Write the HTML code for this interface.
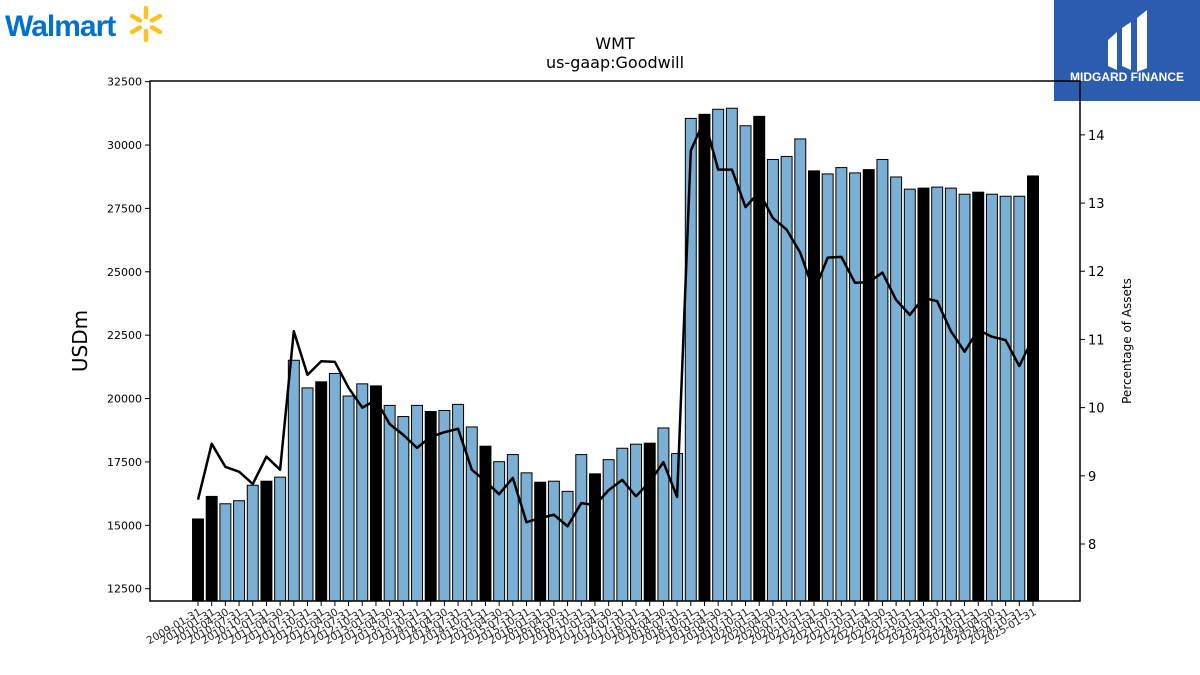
<!DOCTYPE html>
<html><head><meta charset="utf-8"><style>
body{margin:0;background:#fff;width:1200px;height:675px;overflow:hidden;font-family:"DejaVu Sans","Liberation Sans",sans-serif}
svg{position:absolute;left:0;top:0}
</style></head><body>
<svg id="c" width="1200" height="675" xmlns="http://www.w3.org/2000/svg">
<g>
<text x="5" y="36" font-family="Liberation Sans, sans-serif" font-weight="bold" font-size="30" fill="#0071ce" letter-spacing="-1">Walmart</text>
<g stroke="#ffc220" stroke-width="4.5" stroke-linecap="round">
<line x1="146" y1="8" x2="146" y2="17"/><line x1="146" y1="31" x2="146" y2="40"/>
<line x1="132" y1="16" x2="140" y2="20.5"/><line x1="152" y1="27.5" x2="160" y2="32"/>
<line x1="132" y1="32" x2="140" y2="27.5"/><line x1="152" y1="20.5" x2="160" y2="16"/>
</g></g>
<g>
<rect x="1054" y="0" width="146" height="101" fill="#2b5cae"/>
<path d="M1108 40 L1117 32 L1117 70 L1108 66 Z M1122 28 L1131 22 L1131 70 L1122 66 Z M1137 18 L1147 10 L1147 68 L1137 72 Z" fill="#fff"/>
<text x="1127" y="81" text-anchor="middle" font-family="Liberation Sans, sans-serif" font-weight="bold" font-size="12" fill="#fff">MIDGARD FINANCE</text>
</g>
<text x="615" y="49" text-anchor="middle" font-size="16">WMT</text>
<text x="615" y="68" text-anchor="middle" font-size="16">us-gaap:Goodwill</text>
<text transform="translate(87,341) rotate(-90)" text-anchor="middle" font-size="20">USDm</text>
<text transform="translate(1131,341) rotate(-90)" text-anchor="middle" font-size="12">Percentage of Assets</text>
<g id="plot"></g>
</svg>
<script>
const dates=["2009-01-31","2010-01-31"];
for(let y=2010;y<=2025;y++){for(const m of (y===2010?["04-30","07-31","10-31"]:(y===2025?["01-31"]:["01-31","04-30","07-31","10-31"])))dates.push(y+"-"+m);}
const values=[15250,16140,15850,15970,16580,16740,16900,21510,20420,20660,20990,20100,20580,20500,19730,19290,19730,19490,19530,19770,18880,18120,17510,17790,17070,16700,16740,16340,17790,17030,17590,18040,18200,18240,18840,17830,31050,31210,31410,31450,30760,31130,29430,29550,30240,28980,28860,29110,28900,29030,29430,28740,28260,28300,28340,28300,28060,28140,28060,27980,27980,28780];
const pct=[8.65,9.47,9.13,9.06,8.88,9.28,9.09,11.12,10.48,10.68,10.67,10.29,10.0,10.11,9.76,9.60,9.41,9.57,9.64,9.69,9.09,8.92,8.73,8.97,8.32,8.38,8.43,8.26,8.60,8.57,8.79,8.94,8.70,8.91,9.20,8.69,13.77,14.22,13.49,13.49,12.94,13.16,12.78,12.61,12.27,11.70,12.20,12.21,11.83,11.84,11.98,11.58,11.36,11.61,11.56,11.12,10.82,11.14,11.04,10.99,10.61,11.02];
const leftTicks=[12500,15000,17500,20000,22500,25000,27500,30000,32500];
const rightTicks=[8,9,10,11,12,13,14];
const NS="http://www.w3.org/2000/svg";
const L=150,R=1080,T=81,B=601;
const yMin=12015,yMax=32525,pMin=7.164,pMax=14.79;
const n=dates.length;
const x0=198,x1=1033;
const xS=i=>x0+(x1-x0)*i/(n-1);
const yS=v=>B-(v-yMin)/(yMax-yMin)*(B-T);
const pS=v=>B-(v-pMin)/(pMax-pMin)*(B-T);
const g=document.getElementById('plot');
function mk(t,a){const e=document.createElementNS(NS,t);for(const k in a)e.setAttribute(k,a[k]);g.appendChild(e);return e;}
const bw=(x1-x0)/(n-1)*0.8;
values.forEach((v,i)=>{
  const annual=dates[i].endsWith("01-31");
  const r=mk('rect',{x:xS(i)-bw/2,y:yS(v),width:bw,height:B-yS(v),fill:annual?'#000':'#7bafd4',stroke:'#000','stroke-width':1});
  
  
});
const pts=pct.map((p,i)=>xS(i).toFixed(1)+","+pS(p).toFixed(1)).join(" ");
const ln=mk('polyline',{points:pts,fill:'none',stroke:'#000','stroke-width':2.5,'stroke-linejoin':'round'});


const fr=mk('rect',{x:L,y:T,width:R-L,height:B-T,fill:'none',stroke:'#000','stroke-width':1.5});


leftTicks.forEach(t=>{
  const y=yS(t);
  mk('line',{x1:L-5,x2:L,y1:y,y2:y,stroke:'#000'});
  const tx=mk('text',{x:L-8,y:y+4,'text-anchor':'end','font-size':11});
  tx.textContent=t;
  
  
});
rightTicks.forEach(t=>{
  const y=pS(t);
  mk('line',{x1:R,x2:R+5,y1:y,y2:y,stroke:'#000'});
  const tx=mk('text',{x:R+8,y:y+5,'font-size':13});
  tx.textContent=t;
  
  
});
dates.forEach((d,i)=>{
  const x=xS(i);
  mk('line',{x1:x,x2:x,y1:B,y2:B+5,stroke:'#000'});
  const tx=mk('text',{transform:`translate(${x+4},${B+13}) rotate(-30)`,'text-anchor':'end','font-size':10.5,fill:'#222'});
  tx.textContent=d;
  
  
});
</script>
</body></html>
